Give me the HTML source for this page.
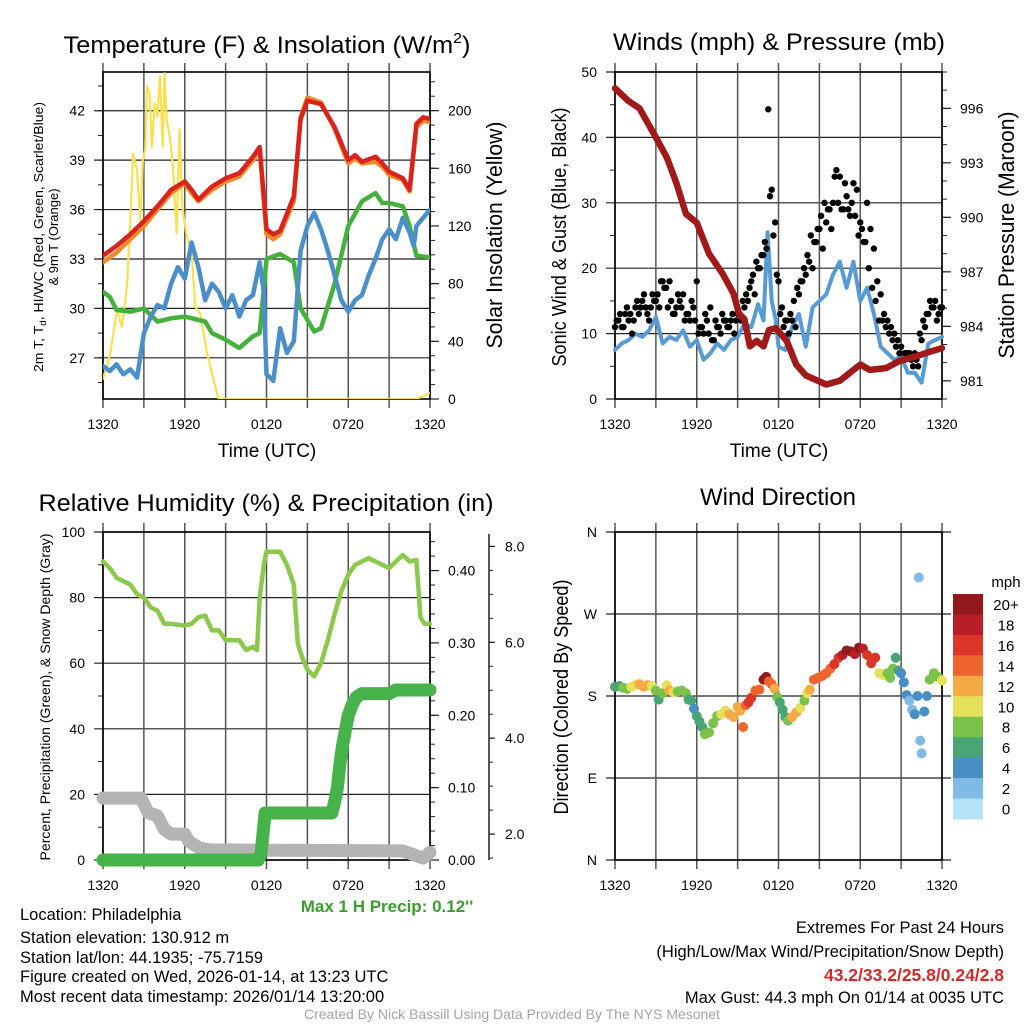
<!DOCTYPE html>
<html><head><meta charset="utf-8"><style>
html,body{margin:0;padding:0;background:#fff;}
svg{display:block;font-family:"Liberation Sans",sans-serif;}
</style></head><body>
<svg id="chart" width="1024" height="1024" viewBox="0 0 1024 1024" xmlns="http://www.w3.org/2000/svg">
<rect x="0" y="0" width="1024" height="1024" fill="#fff"/>
<text x="267" y="53" font-size="24" text-anchor="middle" textLength="407" lengthAdjust="spacingAndGlyphs">Temperature (F) &amp; Insolation (W/m<tspan font-size="15" dy="-10">2</tspan><tspan dy="10">)</tspan></text>
<text x="779" y="50" font-size="24" text-anchor="middle" textLength="332" lengthAdjust="spacingAndGlyphs">Winds (mph) &amp; Pressure (mb)</text>
<text x="266" y="511" font-size="24" text-anchor="middle" textLength="455" lengthAdjust="spacingAndGlyphs">Relative Humidity (%) &amp; Precipitation (in)</text>
<text x="778" y="505" font-size="24" text-anchor="middle">Wind Direction</text>

<text transform="translate(43,237) rotate(-90)" font-size="13" text-anchor="middle" textLength="270" lengthAdjust="spacingAndGlyphs">2m T, T<tspan font-size="9" dy="3">d</tspan><tspan dy="-3">, HI/WC (Red, Green, Scarlet/Blue)</tspan></text>
<text transform="translate(58,237) rotate(-90)" font-size="13" text-anchor="middle">&amp; 9m T (Orange)</text>
<text transform="translate(502,235) rotate(-90)" font-size="22" text-anchor="middle" textLength="227" lengthAdjust="spacingAndGlyphs">Solar Insolation (Yellow)</text>
<text transform="translate(566,237) rotate(-90)" font-size="20" text-anchor="middle" textLength="259" lengthAdjust="spacingAndGlyphs">Sonic Wind &amp; Gust (Blue, Black)</text>
<text transform="translate(1014,235) rotate(-90)" font-size="22" text-anchor="middle" textLength="247" lengthAdjust="spacingAndGlyphs">Station Pressure (Maroon)</text>
<text transform="translate(50,697) rotate(-90)" font-size="14" text-anchor="middle" textLength="327" lengthAdjust="spacingAndGlyphs">Percent, Precipitation (Green), &amp; Snow Depth (Gray)</text>
<text transform="translate(568,697) rotate(-90)" font-size="20" text-anchor="middle" textLength="235" lengthAdjust="spacingAndGlyphs">Direction (Colored By Speed)</text>
<text x="267" y="457" font-size="19" text-anchor="middle">Time (UTC)</text>
<text x="779" y="457" font-size="19" text-anchor="middle">Time (UTC)</text>

<text x="387" y="912" font-size="17" font-weight="bold" fill="#3a9d2e" text-anchor="middle">Max 1 H Precip: 0.12''</text>
<g font-size="16.5">
<text x="20" y="920">Location: Philadelphia</text>
<text x="20" y="943">Station elevation: 130.912 m</text>
<text x="20" y="963">Station lat/lon: 44.1935; -75.7159</text>
<text x="20" y="982">Figure created on Wed, 2026-01-14, at 13:23 UTC</text>
<text x="20" y="1002">Most recent data timestamp: 2026/01/14 13:20:00</text>
</g>
<g font-size="16.5" text-anchor="end">
<text x="1004" y="933">Extremes For Past 24 Hours</text>
<text x="1004" y="957">(High/Low/Max Wind/Precipitation/Snow Depth)</text>
<text x="1004" y="981" font-size="17.5" font-weight="bold" fill="#d22a2a">43.2/33.2/25.8/0.24/2.8</text>
<text x="1004" y="1003">Max Gust: 44.3 mph On 01/14 at 0035 UTC</text>
</g>
<text x="512" y="1019" font-size="14" fill="#a5a5a5" text-anchor="middle">Created By Nick Bassill Using Data Provided By The NYS Mesonet</text>
</svg>
<script>
// ---------- data ----------
const timeTickLabels = ["1320","1920","0120","0720","1320"];
const timeTickHours = [0,6,12,18,24];
const timeMinorHours = [3,9,15,21];

const tRed = [0,1,2,3,4,5,6,6.5,7,8,9,10,11,11.5,12,12.5,13,14,14.5,15,16,17,18,18.5,19,20,20.5,21,22,22.5,23,23.5,24];
const redTemp = [33.2,33.8,34.5,35.3,36.2,37.2,37.7,37.2,36.6,37.4,37.9,38.2,39.2,39.8,34.8,34.5,34.7,36.8,41.5,42.6,42.4,41.0,39.0,39.3,38.9,39.2,38.8,38.3,37.9,37.2,41.2,41.6,41.5];
const orangeTemp = [32.8,33.4,34.2,35.0,36.0,37.0,37.6,37.0,36.5,37.2,37.7,38.0,39.0,39.6,34.5,34.2,34.5,36.5,41.6,42.8,42.5,40.9,38.8,39.1,38.8,38.9,38.6,38.1,37.8,37.1,41.0,41.4,41.3];
const tGreen = [0,0.5,1,2,3,4,5,6,7,7.5,8,9,10,11,11.5,12,13,14,14.5,15,15.5,16,17,18,19,20,20.5,21,22,22.5,23,24];
const dewpoint = [31.0,30.7,29.9,29.8,30.0,29.2,29.4,29.5,29.3,29.2,28.5,28.1,27.6,28.3,28.5,33.0,33.3,32.8,30.0,29.3,28.6,28.8,31.5,35.0,36.5,37.0,36.4,36.4,36.2,35.0,33.2,33.1];
const tBlue = [0,0.5,1,1.5,2,2.5,3,3.5,4,4.5,5,5.5,6,6.5,7,7.5,8,8.5,9,9.5,10,10.5,11,11.5,11.8,12,12.5,13,13.5,14,14.5,15,15.5,16,16.5,17,17.5,18,18.5,19,19.5,20,20.5,21,21.5,22,22.5,22.8,23,23.5,24];
const windChill = [26.5,26.2,26.6,26.0,26.3,25.8,28.5,29.5,30.2,30.0,31.5,32.5,31.8,34.0,32.5,30.5,31.5,31.0,30.0,30.8,29.5,30.5,30.8,32.8,31.0,26.0,25.6,28.8,27.3,28.0,33.5,35.0,35.8,34.8,33.5,32.0,30.5,29.8,30.5,30.8,32.0,33.0,34.2,34.8,34.2,35.5,34.6,33.8,35.0,35.5,36.0];
const tSolar = [0,0.54,1.03,1.39,1.76,2.0,2.2,2.49,2.73,2.93,3.1,3.23,3.42,3.59,3.79,3.99,4.18,4.38,4.52,4.67,4.9,5.15,5.4,5.62,5.82,6.11,6.5,6.77,7.14,7.63,8.12,8.48,23.0,24];
const solar = [14,32,62,50,78,124,170,159,124,166,173,217,212,175,205,196,224,175,226,194,182,159,115,187,133,115,101,64,59,32,13,0,0,4];

const tWind = [0,0.5,1,1.5,2,2.5,3,3.5,4,4.5,5,5.5,6,6.5,7,7.5,8,8.5,9,9.5,10,10.5,10.9,11.2,11.5,11.8,12,12.5,13,13.5,14,14.5,15,15.5,16,16.5,17,17.5,18,18.5,19,19.5,20,20.5,21,21.5,22,22.5,23,23.5,24];
const windSpeed = [7.5,8.5,9,10,9.5,10.5,12.5,8.5,9.5,9,10.5,8,9,6,7,8.5,7.5,9,9.5,11.5,11,14.5,12,25.5,15,12,8,7.5,11,13,8,14,15,16,19,21,17,21,15,17,13,8,7,6,6.5,4,4,2.5,8.5,9,9.5];
const gustA = [11,12,11,13,12,10,14,13,15,14,12,16,15,14,18,17,18,13,14,15,16,13,12,14,18,11,10,12,14,9,11,10,12,11,12,10,13,12,14,15,18,16,20,22,24,44.3,32,27,18,14,12,10,12,11,16,18,19,21,20,24,26,23,27,29,30,35,34,29,31,28,33,32,27,24,30,26,23,18,16,13,12,11,10,9,8,7,7,6,7,5,9,11,13,14,15,13,14];
const gustB = [12,13,11,14,13,12,15,14,16,13,14,15,16,18,17,14,15,13,16,14,12,13,15,12,10,11,13,10,9,12,11,13,12,11,13,12,13,15,16,17,19,21,20,22,23,31,25,19,13,11,12,13,15,17,18,20,22,25,24,26,28,30,29,26,34,30,29,33,29,30,28,25,26,24,20,17,15,12,12,11,10,9,8,7,6,7,7,5,6,10,12,13,15,14,12,14];
const tPres = [0,1,1.8,3,3.8,4.5,5.2,6,6.9,7.9,8.7,9.1,9.5,9.9,10.4,10.9,11.3,11.8,12.6,13.3,14,15.5,16.5,18,18.7,19.9,20.9,21.9,23.1,24];
const pressure = [997.1,996.4,996.0,994.4,993.3,991.9,990.2,989.7,988.0,986.9,985.8,984.7,984.4,982.9,983.2,982.9,983.8,983.9,983.2,981.9,981.3,980.8,981.0,981.9,981.6,981.7,982.1,982.3,982.6,982.8];

const tRH = [0,0.5,1,2,2.5,3,3.5,4,4.5,5,6,6.5,7,7.5,8,8.5,9,10,10.5,11,11.3,11.5,11.8,12,13,13.5,14,14.3,14.6,15,15.5,16,16.5,17,17.5,18,18.5,19,19.5,20.5,21,21.5,22,22.5,23,23.3,23.6,24];
const humidity = [91,89,86,84,81,80,77,76,72,72,71.5,72,74,74.5,70,70,67,67,64,65,64,80,90,94,94,90,84,66,62,58,56,60,67,75,82,87,90,91,92,90,89,91,93,91,91.5,74,72,72];
const tPrecip = [0,11.4,11.6,11.9,16.8,17.0,17.2,17.4,17.6,17.8,18.0,18.3,18.6,19.0,21.0,21.5,24];
const precip = [0,0,0.01,0.065,0.065,0.08,0.10,0.135,0.16,0.18,0.20,0.215,0.225,0.23,0.23,0.235,0.235];
const tSnow = [0,2.8,3.3,4,4.5,5,6,6.3,7,7.5,8,22,23,23.5,24];
const snowDepth = [2.75,2.75,2.45,2.38,2.1,2.0,2.0,1.85,1.72,1.68,1.67,1.65,1.55,1.5,1.62];

const tDir = [0,0.3,0.6,0.9,1.2,1.5,1.8,2.1,2.4,2.7,3.0,3.2,3.5,3.8,4.0,4.3,4.6,4.9,5.2,5.4,5.6,5.8,6.0,6.2,6.4,6.6,6.9,7.2,7.5,7.8,8.1,8.4,8.7,9.0,9.2,9.4,9.6,9.8,10.0,10.3,10.6,10.9,11.1,11.3,11.5,11.7,11.9,12.1,12.3,12.5,12.7,13.0,13.3,13.6,13.9,14.1,14.3,14.6,14.9,15.2,15.5,15.8,16.1,16.4,16.7,17.0,17.3,17.6,17.9,18.2,18.5,18.8,19.1,19.4,19.7,20.0,20.2,20.4,20.6,20.8,21.0,21.2,21.4,21.6,21.8,22.0,22.2,22.3,22.4,22.5,22.7,22.9,23.1,23.4,23.7,24.0];
const dirDeg = [190,191,189,188,190,192,193,190,192,191,186,176,183,192,186,184,185,186,183,176,175,166,158,152,146,138,140,150,158,160,164,160,157,168,164,146,170,173,178,186,187,198,201,196,193,188,179,173,165,157,153,157,162,167,175,183,187,198,200,202,205,210,215,222,225,230,229,226,233,232,225,216,222,205,203,205,200,210,222,208,205,195,181,175,165,160,180,310,131,117,163,180,198,205,201,197];
const dirSpeed = [7,7,8,9,10,11,12,12,13,11,9,7,8,10,12,11,8,9,8,6,6,4,6,6,6,8,9,8,9,10,11,12,12,13,12,14,15,16,16,14,15,20,21,15,14,13,8,7,6,7,8,12,12,10,8,10,12,14,15,14,15,15,16,17,18,20,20,18,20,19,17,17,16,10,10,8,8,9,6,6,5,4,4,3,3,4,4,3,3,3,5,4,8,9,8,10];
const speedBinLabels = ["0","2","4","6","8","10","12","14","16","18","20+"];
const speedBinColors = ["#b5e2f7","#7fbbe5","#4a8ec6","#4aa574","#7cc14a","#e6df5a","#f6aa46","#ef652e","#dc3628","#b91d25","#93181b"];

// ---------- helpers ----------
const NS = 'http://www.w3.org/2000/svg';
const svg = document.getElementById('chart');
function el(tag, attrs, parent) {
  const e = document.createElementNS(NS, tag);
  for (const k in attrs) e.setAttribute(k, attrs[k]);
  (parent || svg).appendChild(e);
  return e;
}
function lin(d0, d1, r0, r1) { return v => r0 + (v - d0) / (d1 - d0) * (r1 - r0); }
function range(a, b, s) { const r = []; for (let v = a; v <= b + 1e-9; v += s) r.push(Math.round(v * 1000) / 1000); return r; }
function pathD(ts, vs, xs, ys) { return ts.map((t, i) => (i ? 'L' : 'M') + xs(t).toFixed(1) + ',' + ys(vs[i]).toFixed(1)).join(''); }

function frame(p) {
  const g = el('g', {});
  
  
  const xs = lin(0, 24, p.x0, p.x1);
  p.leftTicks.forEach(v => {
    const y = p.ly(v);
    const ln = el('line', {x1: p.x0 - 9, x2: p.gridRight || p.x1, y1: y, y2: y, stroke: '#222', 'stroke-width': 1.2}, g);
    
    
    const tx = el('text', {x: p.x0 - 18, y: y + 5, 'font-size': 14, 'text-anchor': 'end'}, g);
    
    
    tx.textContent = p.leftFmt(v);
  });
  (p.leftMinor || []).forEach(v => {
    const y = p.ly(v);
    const ln = el('line', {x1: p.x0 - 5, x2: p.x0, y1: y, y2: y, stroke: '#222', 'stroke-width': 1}, g);
    
    
  });
  timeTickHours.concat(timeMinorHours).forEach(h => {
    const x = xs(h);
    const ln = el('line', {x1: x, x2: x, y1: p.y0 - 9, y2: p.y1 + 9, stroke: '#555', 'stroke-width': 1.5}, g);
    
    
  });
  timeTickHours.forEach((h, i) => {
    const tx = el('text', {x: xs(h), y: p.y1 + 30, 'font-size': 14, 'text-anchor': 'middle'}, g);
    
    
    tx.textContent = timeTickLabels[i];
  });
  if (p.rightTicks) {
    p.rightTicks.forEach(v => {
      const y = p.ry(v);
      const ln = el('line', {x1: p.x1, x2: p.x1 + 9, y1: y, y2: y, stroke: '#222', 'stroke-width': 1.2}, g);
      
      
      const tx = el('text', {x: p.x1 + 18, y: y + 5, 'font-size': 14}, g);
      
      
      tx.textContent = p.rightFmt(v);
    });
    p.rightMinor.forEach(v => {
      const y = p.ry(v);
      const ln = el('line', {x1: p.x1, x2: p.x1 + 5, y1: y, y2: y, stroke: '#222', 'stroke-width': 1}, g);
      
      
    });
  }
  const box = el('rect', {x: p.x0, y: p.y0, width: p.x1 - p.x0, height: p.y1 - p.y0, fill: 'none', stroke: '#000', 'stroke-width': 1.6}, g);
  
  
  return xs;
}
function drawLine(ts, vs, xs, ys, color, w, name, cap) {
  const pth = el('path', {d: pathD(ts, vs, xs, ys), fill: 'none', stroke: color, 'stroke-width': w, 'stroke-linejoin': 'round', 'stroke-linecap': cap || 'round'});
  
  
  return pth;
}

// ---------- panel 1 ----------
const p1 = {name: 'temperature', x0: 103, x1: 430, y0: 72, y1: 399,
  ly: lin(24.5, 44.35, 399, 72), ry: lin(0, 226.8, 399, 72),
  leftTicks: range(27, 42, 3), leftMinor: range(25.5, 43.5, 1.5), leftFmt: v => String(v),
  rightTicks: range(0, 200, 40), rightMinor: range(10, 220, 10), rightFmt: v => String(v)};
const xs1 = frame(p1);
const clip1 = el('clipPath', {id: 'c1'}); el('rect', {x: 103, y: 72, width: 327, height: 327}, clip1);
const g1 = el('g', {'clip-path': 'url(#c1)'});


[['solar', tSolar, solar, p1.ry, '#f9e04f', 2.2, 'insolation-line'],
 ['green', tGreen, dewpoint, p1.ly, '#45b13d', 4.5, 'dewpoint-line'],
 ['blue', tBlue, windChill, p1.ly, '#4b8fca', 4.5, 'wind-chill-line'],
 ['orange', tRed, orangeTemp, p1.ly, '#f28a2b', 4.5, '9m-temperature-line'],
 ['red', tRed, redTemp, p1.ly, '#d8231f', 4.5, '2m-temperature-line']].forEach(s => {
  g1.appendChild(drawLine(s[1], s[2], xs1, s[3], s[4], s[5], s[6]));
});

// ---------- panel 2 ----------
const p2 = {name: 'winds', x0: 615, x1: 942, y0: 72, y1: 399,
  ly: lin(0, 50, 399, 72), ry: lin(980, 998, 399, 72),
  leftTicks: range(0, 50, 10), leftMinor: range(5, 45, 10), leftFmt: v => String(v),
  rightTicks: range(981, 996, 3), rightMinor: range(980, 998, 1), rightFmt: v => String(v)};
const xs2 = frame(p2);
const g2 = el('g', {});


g2.appendChild(drawLine(tWind, windSpeed, xs2, p2.ly, '#579bd5', 4, 'sonic-wind-line'));
const tGustA = gustA.map((v, i) => i * 0.25);
const tGustB = gustB.map((v, i) => i * 0.25 + 0.125);
[[tGustA, gustA], [tGustB, gustB]].forEach(s => {
  s[0].forEach((t, i) => {
    const c = el('circle', {cx: xs2(t), cy: p2.ly(s[1][i]), r: 3.2, fill: '#000'}, g2);
    
    
  });
});
g2.appendChild(drawLine(tPres, pressure, xs2, p2.ry, '#a01a1a', 6.5, 'pressure-line'));

// ---------- panel 3 ----------
const p3 = {name: 'humidity', x0: 103, x1: 430, y0: 532, y1: 860,
  ly: lin(0, 100, 860, 532), ry: lin(0, 0.4533, 860, 532),
  leftTicks: range(0, 100, 20), leftMinor: range(10, 90, 20), leftFmt: v => String(v),
  rightTicks: range(0, 0.4, 0.1), rightMinor: range(0.02, 0.44, 0.02), rightFmt: v => v.toFixed(2)};
const xs3 = frame(p3);
const snowY = lin(1.46, 8.3, 860, 532);
const sg = el('g', {});


const sAx = el('line', {x1: 489, x2: 489, y1: 534, y2: 860, stroke: '#222', 'stroke-width': 1.5}, sg);


range(2, 8, 2).forEach(v => {
  const ln = el('line', {x1: 489, x2: 495, y1: snowY(v), y2: snowY(v), stroke: '#222', 'stroke-width': 1.2}, sg);
  
  
  const tx = el('text', {x: 505, y: snowY(v) + 5, 'font-size': 14}, sg);
  
  
  tx.textContent = v.toFixed(1);
});
range(1.5, 8, 0.5).forEach(v => {
  const ln = el('line', {x1: 489, x2: 493, y1: snowY(v), y2: snowY(v), stroke: '#222', 'stroke-width': 1}, sg);
  
  
});
drawLine(tSnow, snowDepth, xs3, snowY, '#b4b4b4', 13, 'snow-depth-line');
drawLine(tPrecip, precip, xs3, p3.ry, '#46b34a', 13, 'precipitation-line');
drawLine(tRH, humidity, xs3, p3.ly, '#8cc84b', 4.5, 'relative-humidity-line');

// ---------- panel 4 ----------
const p4 = {name: 'direction', x0: 615, x1: 942, y0: 532, y1: 860, gridRight: 951,
  ly: lin(0, 360, 860, 532), leftTicks: [0, 90, 180, 270, 360], leftFmt: v => ['N','E','S','W','N'][v / 90]};
const xs4 = frame(p4);
const g4 = el('g', {});


function speedColor(s) { return speedBinColors[Math.min(10, Math.floor(s / 2))]; }
tDir.forEach((t, i) => {
  const c = el('circle', {cx: xs4(t), cy: p4.ly(dirDeg[i]), r: 5, fill: speedColor(dirSpeed[i])}, g4);
  
  
});
const cb = el('g', {});


const cbTop = 594, cbH = 20.45;
const mph = el('text', {x: 1006, y: 587, 'font-size': 15, 'text-anchor': 'middle'}, cb);


mph.textContent = 'mph';
speedBinLabels.slice().reverse().forEach((lab, i) => {
  const col = speedBinColors[speedBinLabels.length - 1 - i];
  const r = el('rect', {x: 953, y: cbTop + i * cbH, width: 30, height: cbH + 0.5, fill: col}, cb);
  
  
  const tx = el('text', {x: 1006, y: cbTop + i * cbH + 16, 'font-size': 15, 'text-anchor': 'middle'}, cb);
  
  
  tx.textContent = lab;
});
</script>
</body></html>
